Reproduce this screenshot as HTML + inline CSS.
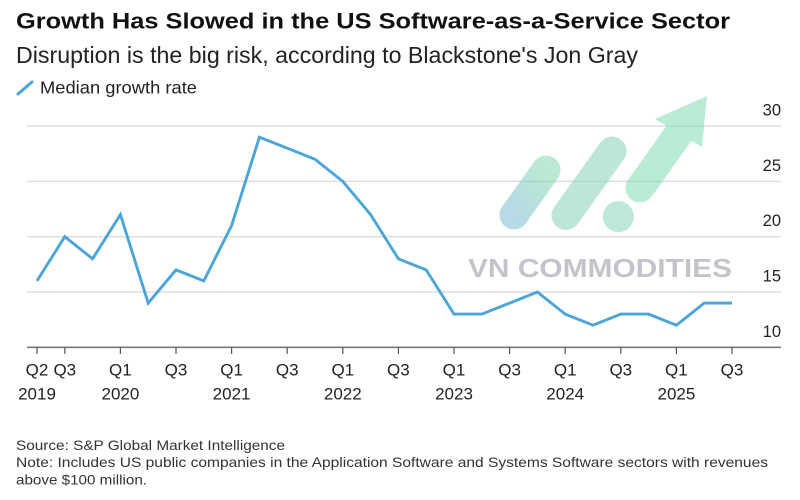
<!DOCTYPE html>
<html>
<head>
<meta charset="utf-8">
<style>
  html,body{margin:0;padding:0;background:#fff;}
  svg{display:block;}
  text{font-family:"Liberation Sans", Arial, sans-serif;}
</style>
</head>
<body>
<svg width="800" height="500" viewBox="0 0 800 500" xmlns="http://www.w3.org/2000/svg">
  <defs>
    <linearGradient id="wm" x1="0" y1="1" x2="1" y2="0">
      <stop offset="0" stop-color="#6fb6cf"/>
      <stop offset="1" stop-color="#78d6a8"/>
    </linearGradient>
  </defs>
  <rect x="0" y="0" width="800" height="500" fill="#fff"/>

  <!-- Title -->
  <text x="16" y="28.5" font-size="22" font-weight="bold" fill="#111" textLength="714" lengthAdjust="spacingAndGlyphs">Growth Has Slowed in the US Software-as-a-Service Sector</text>
  <text x="16" y="63" font-size="23" fill="#222" textLength="622" lengthAdjust="spacingAndGlyphs">Disruption is the big risk, according to Blackstone's Jon Gray</text>

  <!-- Legend -->
  <line x1="18" y1="94" x2="32" y2="82" stroke="#4ba5d8" stroke-width="3" stroke-linecap="round"/>
  <text x="40" y="93.5" font-size="17.5" fill="#222" textLength="157" lengthAdjust="spacingAndGlyphs">Median growth rate</text>

  <!-- Gridlines -->
  <g stroke="#dedede" stroke-width="1.5">
    <line x1="27" y1="126.1" x2="781" y2="126.1"/>
    <line x1="27" y1="181.4" x2="781" y2="181.4"/>
    <line x1="27" y1="236.7" x2="781" y2="236.7"/>
    <line x1="27" y1="292.0" x2="781" y2="292.0"/>
  </g>
  <line x1="27" y1="347.3" x2="781" y2="347.3" stroke="#7a7a7a" stroke-width="1.6"/>

  <!-- Y labels -->
  <g font-size="16.5" fill="#222" text-anchor="end">
    <text x="781" y="115.6">30</text>
    <text x="781" y="170.9">25</text>
    <text x="781" y="226.2">20</text>
    <text x="781" y="281.5">15</text>
    <text x="781" y="336.8">10</text>
  </g>

  <!-- Watermark -->
  <g opacity="0.5">
    <line x1="514" y1="215" x2="546" y2="170" stroke="url(#wm)" stroke-width="29" stroke-linecap="round"/>
    <line x1="566" y1="215.5" x2="612" y2="151" stroke="#7dcfb0" stroke-width="29" stroke-linecap="round"/>
    <circle cx="618.3" cy="216.7" r="15.5" fill="#7dd2b0"/>
    <line x1="640" y1="188" x2="680" y2="132" stroke="#78d8aa" stroke-width="29" stroke-linecap="round"/>
    <polygon points="707,96 655,119 702,147" fill="#78d8aa"/>
  </g>
  <text x="468" y="277" font-size="26" font-weight="bold" fill="#c4c3cc" textLength="264" lengthAdjust="spacingAndGlyphs">VN COMMODITIES</text>

  <!-- Ticks -->
  <g stroke="#555" stroke-width="1.2">
    <line x1="37.0" y1="347.3" x2="37.0" y2="354"/>
    <line x1="64.8" y1="347.3" x2="64.8" y2="354"/>
    <line x1="120.4" y1="347.3" x2="120.4" y2="354"/>
    <line x1="176.0" y1="347.3" x2="176.0" y2="354"/>
    <line x1="231.6" y1="347.3" x2="231.6" y2="354"/>
    <line x1="287.2" y1="347.3" x2="287.2" y2="354"/>
    <line x1="342.8" y1="347.3" x2="342.8" y2="354"/>
    <line x1="398.4" y1="347.3" x2="398.4" y2="354"/>
    <line x1="454.0" y1="347.3" x2="454.0" y2="354"/>
    <line x1="509.6" y1="347.3" x2="509.6" y2="354"/>
    <line x1="565.2" y1="347.3" x2="565.2" y2="354"/>
    <line x1="620.8" y1="347.3" x2="620.8" y2="354"/>
    <line x1="676.4" y1="347.3" x2="676.4" y2="354"/>
    <line x1="732.0" y1="347.3" x2="732.0" y2="354"/>
  </g>

  <!-- X labels -->
  <g font-size="17" fill="#222" text-anchor="middle">
    <text x="37.0" y="375.5">Q2</text>
    <text x="64.8" y="375.5">Q3</text>
    <text x="120.4" y="375.5">Q1</text>
    <text x="176.0" y="375.5">Q3</text>
    <text x="231.6" y="375.5">Q1</text>
    <text x="287.2" y="375.5">Q3</text>
    <text x="342.8" y="375.5">Q1</text>
    <text x="398.4" y="375.5">Q3</text>
    <text x="454.0" y="375.5">Q1</text>
    <text x="509.6" y="375.5">Q3</text>
    <text x="565.2" y="375.5">Q1</text>
    <text x="620.8" y="375.5">Q3</text>
    <text x="676.4" y="375.5">Q1</text>
    <text x="732.0" y="375.5">Q3</text>
    <text x="37.0" y="399.5">2019</text>
    <text x="120.4" y="399.5">2020</text>
    <text x="231.6" y="399.5">2021</text>
    <text x="342.8" y="399.5">2022</text>
    <text x="454.0" y="399.5">2023</text>
    <text x="565.2" y="399.5">2024</text>
    <text x="676.4" y="399.5">2025</text>
  </g>

  <!-- Data line -->
  <polyline fill="none" stroke="#4ba5d8" stroke-width="2.9" stroke-linejoin="miter" stroke-linecap="butt"
    points="37.0,280.9 64.8,236.7 92.6,258.8 120.4,214.6 148.2,303.1 176.0,269.9 203.8,280.9 231.6,225.6 259.4,137.2 287.2,148.2 315.0,159.3 342.8,181.4 370.6,214.6 398.4,258.8 426.2,269.9 454.0,314.1 481.8,314.1 509.6,303.1 537.4,292.0 565.2,314.1 593.0,325.2 620.8,314.1 648.6,314.1 676.4,325.2 704.2,303.1 732.0,303.1"/>

  <!-- Footer -->
  <g font-size="14" fill="#333">
    <text x="16" y="450" textLength="269" lengthAdjust="spacingAndGlyphs">Source: S&amp;P Global Market Intelligence</text>
    <text x="16" y="467" textLength="752" lengthAdjust="spacingAndGlyphs">Note: Includes US public companies in the Application Software and Systems Software sectors with revenues</text>
    <text x="16" y="484.5" textLength="131" lengthAdjust="spacingAndGlyphs">above $100 million.</text>
  </g>
</svg>
</body>
</html>
